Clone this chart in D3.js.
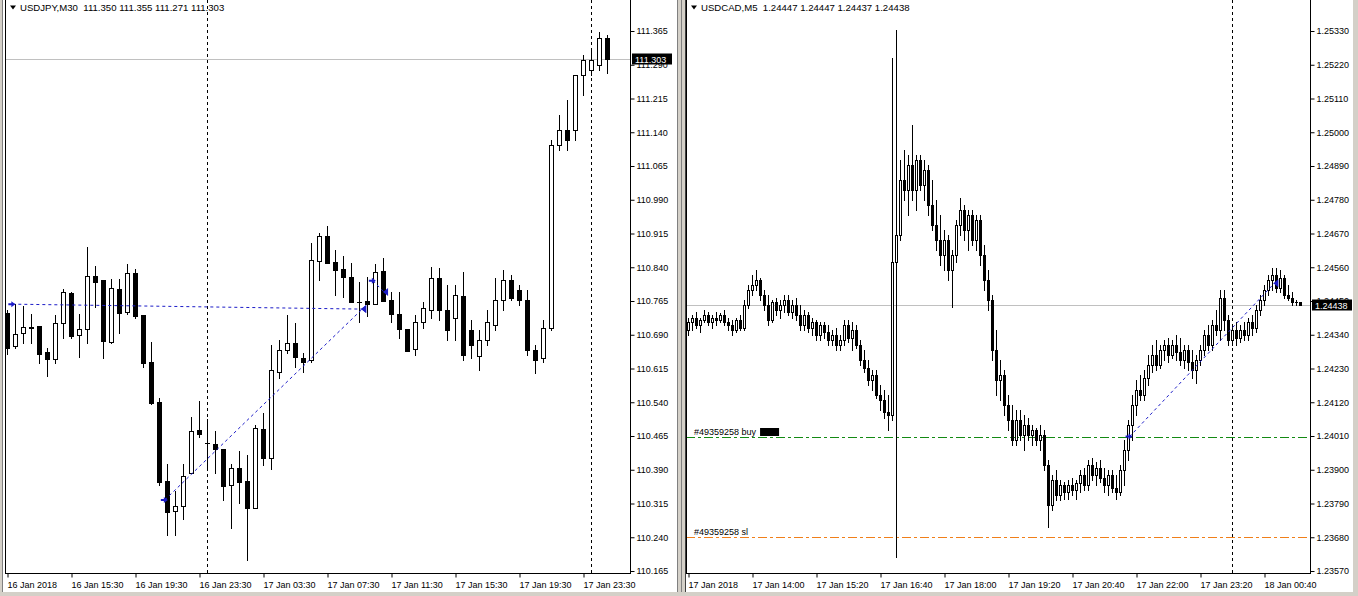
<!DOCTYPE html>
<html>
<head>
<meta charset="utf-8">
<script src="https://cdn.jsdelivr.net/npm/d3@7/dist/d3.min.js"></script>
<style>
html,body{margin:0;padding:0;background:#fff;overflow:hidden;}
text{font-family:"Liberation Sans",Arial,sans-serif;font-size:9px;fill:#000;}
text.hdr{font-size:9.6px;}
</style>
</head>
<body>
<svg id="chart" width="1358" height="596"></svg>
<script>
// ================= USDJPY, M30 =================
const jpyStart = "2018-01-16 11:30";
const jpyOpen = [110.738,110.665,110.694,110.707,110.710,110.652,110.636,110.716,110.783,110.690,
110.703,110.821,110.812,110.674,110.792,110.741,110.827,110.734,110.630,110.541,
110.365,110.298,110.310,110.383,110.478,110.450,110.447,110.436,110.356,110.394,
110.365,110.305,110.481,110.416,110.607,110.656,110.672,110.638,110.634,110.854,
110.910,110.852,110.836,110.818,110.763,110.765,110.758,110.832,110.767,110.736,
110.703,110.658,110.718,110.745,110.816,110.745,110.727,110.776,110.701,110.643,
110.678,110.712,110.767,110.812,110.790,110.767,110.656,110.638,110.705,111.112,
111.145,111.145,111.267,111.278,111.290,111.350];
const jpyHigh = [110.745,110.758,110.754,110.736,110.710,110.661,110.734,110.792,110.785,110.736,
110.885,110.843,110.812,110.814,110.814,110.847,110.836,110.734,110.674,110.550,
110.403,110.343,110.403,110.507,110.543,110.503,110.476,110.436,110.403,110.432,
110.423,110.490,110.516,110.667,110.678,110.734,110.716,110.650,110.894,110.916,
110.932,110.878,110.865,110.850,110.807,110.818,110.847,110.861,110.785,110.785,
110.703,110.734,110.763,110.841,110.838,110.801,110.801,110.830,110.723,110.701,
110.745,110.816,110.834,110.823,110.801,110.790,110.667,110.723,111.123,111.178,
111.212,111.267,111.312,111.323,111.363,111.355];
const jpyLow = [110.647,110.661,110.672,110.672,110.627,110.598,110.627,110.683,110.683,110.641,
110.672,110.752,110.638,110.672,110.694,110.736,110.727,110.618,110.536,110.356,
110.245,110.245,110.281,110.383,110.463,110.392,110.383,110.323,110.261,110.316,
110.190,110.305,110.401,110.392,110.594,110.650,110.618,110.607,110.630,110.812,
110.850,110.778,110.774,110.763,110.718,110.732,110.758,110.765,110.718,110.683,
110.654,110.645,110.705,110.727,110.723,110.678,110.678,110.634,110.638,110.612,
110.667,110.701,110.745,110.767,110.756,110.645,110.605,110.630,110.701,111.101,
111.101,111.123,111.223,111.267,111.278,111.271];
const jpyClose = [110.661,110.692,110.707,110.705,110.647,110.636,110.716,110.785,110.687,110.703,
110.821,110.807,110.676,110.794,110.738,110.827,110.732,110.627,110.538,110.363,
110.296,110.310,110.376,110.476,110.470,110.449,110.436,110.354,110.394,110.363,
110.305,110.483,110.416,110.612,110.656,110.672,110.641,110.630,110.856,110.910,
110.850,110.834,110.818,110.763,110.762,110.758,110.830,110.765,110.736,110.703,
110.654,110.718,110.750,110.816,110.745,110.701,110.778,110.645,110.667,110.678,
110.718,110.767,110.812,110.772,110.767,110.656,110.634,110.705,111.112,111.145,
111.123,111.267,111.301,111.301,111.350,111.303];
const jpyPriceTicks = [111.365,111.290,111.215,111.140,111.065,110.990,110.915,110.840,110.765,110.690,110.615,110.540,110.465,110.390,110.315,110.240,110.165];
const jpyTimeLabels = ["16 Jan 2018","16 Jan 15:30","16 Jan 19:30","16 Jan 23:30","17 Jan 03:30","17 Jan 07:30","17 Jan 11:30","17 Jan 15:30","17 Jan 19:30","17 Jan 23:30"];
const jpyTimeLabelTimes = ["2018-01-16 11:30","2018-01-16 15:30","2018-01-16 19:30","2018-01-16 23:30","2018-01-17 03:30","2018-01-17 07:30","2018-01-17 11:30","2018-01-17 15:30","2018-01-17 19:30","2018-01-17 23:30"];
const jpySeparators = ["2018-01-17 00:00","2018-01-18 00:00"];
const jpyBid = 111.303;
const jpyHeader = "USDJPY,M30  111.350 111.355 111.271 111.303";
const jpyTrades = [
  {open:"2018-01-16 11:50", openPrice:110.758, close:"2018-01-17 09:42", closePrice:110.747},
  {open:"2018-01-16 21:22", openPrice:110.323, close:"2018-01-17 09:42", closePrice:110.747},
  {open:"2018-01-17 10:22", openPrice:110.810, close:"2018-01-17 11:04", closePrice:110.785}
];

// ================= USDCAD, M5 =================
const cadStart = "2018-01-17 12:40";
const cadOpen = [1.24355,1.24381,1.24394,1.24372,1.24388,1.24404,1.24381,1.24394,1.24388,1.24404,
1.24381,1.24372,1.24355,1.24388,1.24362,1.24437,1.24486,1.24502,1.24518,1.24469,
1.24437,1.24388,1.24446,1.24420,1.24437,1.24453,1.24414,1.24437,1.24404,1.24372,
1.24404,1.24362,1.24381,1.24339,1.24372,1.24349,1.24323,1.24339,1.24306,1.24323,
1.24372,1.24329,1.24355,1.24306,1.24257,1.24231,1.24192,1.24209,1.24144,1.24127,
1.24088,1.24078,1.24577,1.24665,1.24844,1.24812,1.24893,1.24812,1.24909,1.24828,
1.24877,1.24763,1.24698,1.24649,1.24600,1.24649,1.24551,1.24600,1.24698,1.24747,
1.24681,1.24730,1.24649,1.24714,1.24600,1.24518,1.24453,1.24290,1.24192,1.24209,
1.24111,1.24062,1.23997,1.24062,1.24013,1.24046,1.24013,1.24029,1.23997,1.24013,
1.23915,1.23785,1.23866,1.23817,1.23850,1.23827,1.23850,1.23834,1.23857,1.23883,
1.23850,1.23915,1.23883,1.23905,1.23873,1.23850,1.23883,1.23840,1.23827,1.23899,
1.23964,1.24046,1.24111,1.24160,1.24144,1.24199,1.24241,1.24274,1.24241,1.24290,
1.24306,1.24274,1.24306,1.24283,1.24257,1.24290,1.24250,1.24225,1.24257,1.24290,
1.24339,1.24306,1.24372,1.24355,1.24460,1.24388,1.24323,1.24355,1.24329,1.24355,
1.24339,1.24381,1.24362,1.24420,1.24453,1.24486,1.24518,1.24535,1.24492,1.24525,
1.24469,1.24460,1.24446,1.24447];
const cadHigh = [1.24394,1.24404,1.24414,1.24394,1.24420,1.24414,1.24404,1.24414,1.24411,1.24420,
1.24394,1.24388,1.24394,1.24404,1.24453,1.24502,1.24535,1.24551,1.24525,1.24486,
1.24469,1.24453,1.24460,1.24453,1.24469,1.24469,1.24453,1.24460,1.24437,1.24420,
1.24414,1.24394,1.24388,1.24381,1.24381,1.24372,1.24355,1.24362,1.24339,1.24388,
1.24388,1.24381,1.24372,1.24323,1.24290,1.24257,1.24225,1.24225,1.24176,1.24160,
1.24144,1.25242,1.25333,1.24909,1.24942,1.24926,1.25024,1.24926,1.24926,1.24909,
1.24893,1.24844,1.24779,1.24730,1.24681,1.24665,1.24616,1.24714,1.24786,1.24763,
1.24747,1.24747,1.24730,1.24730,1.24632,1.24551,1.24469,1.24355,1.24257,1.24225,
1.24144,1.24111,1.24095,1.24095,1.24078,1.24068,1.24046,1.24036,1.24046,1.24029,
1.23932,1.23883,1.23899,1.23866,1.23860,1.23866,1.23873,1.23866,1.23899,1.23905,
1.23932,1.23938,1.23925,1.23932,1.23905,1.23899,1.23899,1.23883,1.23915,1.23997,
1.24062,1.24144,1.24192,1.24209,1.24225,1.24274,1.24306,1.24323,1.24306,1.24323,
1.24329,1.24323,1.24339,1.24329,1.24306,1.24306,1.24290,1.24274,1.24306,1.24355,
1.24372,1.24388,1.24420,1.24486,1.24486,1.24404,1.24372,1.24381,1.24372,1.24381,
1.24394,1.24404,1.24437,1.24469,1.24502,1.24535,1.24557,1.24557,1.24551,1.24535,
1.24502,1.24479,1.24453,1.24447];
const cadLow = [1.24339,1.24355,1.24362,1.24349,1.24381,1.24372,1.24362,1.24372,1.24381,1.24372,
1.24355,1.24339,1.24349,1.24355,1.24355,1.24427,1.24469,1.24486,1.24453,1.24420,
1.24372,1.24381,1.24404,1.24394,1.24414,1.24404,1.24394,1.24388,1.24355,1.24355,
1.24349,1.24339,1.24323,1.24323,1.24329,1.24306,1.24306,1.24290,1.24290,1.24306,
1.24316,1.24290,1.24296,1.24241,1.24218,1.24176,1.24160,1.24134,1.24095,1.24068,
1.24029,1.24062,1.23615,1.24649,1.24779,1.24730,1.24779,1.24747,1.24812,1.24779,
1.24730,1.24681,1.24616,1.24567,1.24551,1.24518,1.24430,1.24577,1.24665,1.24649,
1.24616,1.24632,1.24616,1.24567,1.24486,1.24420,1.24257,1.24144,1.24127,1.24078,
1.24029,1.23980,1.23980,1.23997,1.23964,1.23997,1.23980,1.23980,1.23964,1.23899,
1.23713,1.23769,1.23801,1.23801,1.23806,1.23806,1.23817,1.23806,1.23827,1.23834,
1.23834,1.23866,1.23850,1.23860,1.23827,1.23817,1.23827,1.23806,1.23817,1.23850,
1.23932,1.23997,1.24078,1.24127,1.24127,1.24176,1.24218,1.24225,1.24231,1.24257,
1.24250,1.24264,1.24257,1.24241,1.24231,1.24225,1.24199,1.24183,1.24241,1.24274,
1.24290,1.24290,1.24339,1.24323,1.24355,1.24306,1.24306,1.24306,1.24316,1.24323,
1.24323,1.24339,1.24349,1.24404,1.24437,1.24469,1.24486,1.24479,1.24479,1.24460,
1.24453,1.24437,1.24437,1.24437];
const cadClose = [1.24381,1.24394,1.24372,1.24388,1.24404,1.24381,1.24394,1.24388,1.24404,1.24381,
1.24372,1.24355,1.24388,1.24362,1.24437,1.24486,1.24502,1.24518,1.24469,1.24437,
1.24388,1.24446,1.24420,1.24437,1.24453,1.24414,1.24437,1.24404,1.24372,1.24404,
1.24362,1.24381,1.24339,1.24372,1.24349,1.24323,1.24339,1.24306,1.24323,1.24372,
1.24329,1.24355,1.24306,1.24257,1.24231,1.24192,1.24209,1.24144,1.24127,1.24088,
1.24078,1.24577,1.24665,1.24844,1.24812,1.24893,1.24812,1.24909,1.24828,1.24877,
1.24763,1.24698,1.24649,1.24600,1.24649,1.24551,1.24600,1.24698,1.24747,1.24681,
1.24730,1.24649,1.24714,1.24600,1.24518,1.24453,1.24290,1.24192,1.24209,1.24111,
1.24062,1.23997,1.24062,1.24013,1.24046,1.24013,1.24029,1.23997,1.24013,1.23915,
1.23785,1.23866,1.23817,1.23850,1.23827,1.23850,1.23834,1.23857,1.23883,1.23850,
1.23915,1.23883,1.23905,1.23873,1.23850,1.23883,1.23840,1.23827,1.23899,1.23964,
1.24046,1.24111,1.24160,1.24144,1.24199,1.24241,1.24274,1.24241,1.24290,1.24306,
1.24274,1.24306,1.24283,1.24257,1.24290,1.24250,1.24225,1.24257,1.24290,1.24339,
1.24306,1.24372,1.24355,1.24460,1.24388,1.24323,1.24355,1.24329,1.24355,1.24339,
1.24381,1.24362,1.24420,1.24453,1.24486,1.24518,1.24535,1.24492,1.24525,1.24469,
1.24460,1.24446,1.24447,1.24438];
const cadPriceTicks = [1.25330,1.25220,1.25110,1.25000,1.24890,1.24780,1.24670,1.24560,1.24450,1.24340,1.24230,1.24120,1.24010,1.23900,1.23790,1.23680,1.23570];
const cadTimeLabels = ["17 Jan 2018","17 Jan 14:00","17 Jan 15:20","17 Jan 16:40","17 Jan 18:00","17 Jan 19:20","17 Jan 20:40","17 Jan 22:00","17 Jan 23:20","18 Jan 00:40"];
const cadTimeLabelTimes = ["2018-01-17 12:40","2018-01-17 14:00","2018-01-17 15:20","2018-01-17 16:40","2018-01-17 18:00","2018-01-17 19:20","2018-01-17 20:40","2018-01-17 22:00","2018-01-17 23:20","2018-01-18 00:40"];
const cadSeparators = ["2018-01-18 00:00"];
const cadBid = 1.24438;
const cadHeader = "USDCAD,M5  1.24447 1.24447 1.24437 1.24438";
const cadTrades = [
  {open:"2018-01-17 21:52", openPrice:1.24008, close:"2018-01-18 00:53", closePrice:1.24508}
];
const cadOrderLines = [
  {label:"#49359258 buy", price:1.24008, color:"#138a13", box:true},
  {label:"#49359258 sl",  price:1.23680, color:"#f07f1a", box:false}
];

// ================= rendering =================
const parse = d3.timeParse("%Y-%m-%d %H:%M");
const svg = d3.select("#chart");
const BOTTOM = 573;

svg.append("rect").attr("x",0).attr("y",0).attr("width",1358).attr("height",596).attr("fill","#fff");

function drawPanel(p){
  const t0 = parse(p.start);
  const n = p.open.length;
  const stepMs = p.stepMin*60000;
  const x = d3.scaleTime().domain([t0, new Date(+t0 + n*stepMs)]).range([p.firstX, p.firstX + n*p.barPx]);
  const y = d3.scaleLinear().domain([p.ticks[p.ticks.length-1], p.ticks[0]]).range([571, 31]);
  const bars = d3.range(n).map(i=>({t:new Date(+t0+i*stepMs), o:p.open[i], h:p.high[i], l:p.low[i], c:p.close[i]}));

  const clipId = "clip"+p.id;
  svg.append("clipPath").attr("id",clipId).append("rect")
    .attr("x",p.left+1).attr("y",0).attr("width",p.right-p.left-1).attr("height",BOTTOM);
  const g = svg.append("g");
  const plot = g.append("g").attr("clip-path",`url(#${clipId})`);

  // period separators
  p.separators.forEach(s=>{
    const xx = Math.round(x(parse(s)))+0.5;
    plot.append("line").attr("x1",xx).attr("x2",xx).attr("y1",0).attr("y2",BOTTOM)
      .attr("stroke","#000").attr("stroke-dasharray","3,3");
  });
  // bid line
  const by = Math.round(y(p.bid))+0.5;
  plot.append("line").attr("x1",p.left).attr("x2",p.right).attr("y1",by).attr("y2",by).attr("stroke","#c0c0c0");

  // order lines
  (p.orderLines||[]).forEach(o=>{
    const oy = Math.round(y(o.price))+0.5;
    plot.append("line").attr("x1",p.left).attr("x2",p.right).attr("y1",oy).attr("y2",oy)
      .attr("stroke",o.color).attr("stroke-dasharray","9,3,3,3").attr("shape-rendering","crispEdges");
    const t = plot.append("text").attr("x",p.left+8).attr("y",oy-2.5).text(o.label);
    if(o.box){
      const w = t.node().getComputedTextLength();
      plot.append("rect").attr("x",p.left+8+w+4).attr("y",oy-9.5).attr("width",19).attr("height",8).attr("fill","#000");
    }
  });

  // candles
  const cg = plot.append("g").attr("shape-rendering","crispEdges");
  const hw = p.bodyHalf;
  bars.forEach(b=>{
    const cx = Math.round(x(b.t));
    const yh = Math.round(y(b.h)), yl = Math.round(y(b.l));
    cg.append("line").attr("x1",cx+0.5).attr("x2",cx+0.5).attr("y1",yh).attr("y2",yl+1).attr("stroke","#000");
    const top = Math.round(y(Math.max(b.o,b.c))), bot = Math.round(y(Math.min(b.o,b.c)));
    if(bot-top < 1){
      cg.append("rect").attr("x",cx-hw).attr("y",top).attr("width",2*hw+1).attr("height",1).attr("fill","#000");
    } else if(b.c > b.o){
      cg.append("rect").attr("x",cx-hw+0.5).attr("y",top+0.5).attr("width",2*hw).attr("height",bot-top)
        .attr("fill","#fff").attr("stroke","#000");
    } else {
      cg.append("rect").attr("x",cx-hw).attr("y",top).attr("width",2*hw+1).attr("height",bot-top+1).attr("fill","#000");
    }
  });

  // trades
  const blue = "#1c1cc8";
  p.trades.forEach(tr=>{
    const x1 = x(parse(tr.open)), y1 = y(tr.openPrice), x2 = x(parse(tr.close)), y2 = y(tr.closePrice);
    plot.append("line").attr("x1",x1).attr("y1",y1).attr("x2",x2).attr("y2",y2)
      .attr("stroke",blue).attr("stroke-dasharray","3,3");
    plot.append("path").attr("transform",`translate(${x1},${y1})`)
      .attr("d","M-4,-1H-1V-3L3,0L-1,3V1H-4Z").attr("fill",blue);
    plot.append("path").attr("transform",`translate(${x2},${y2})`)
      .attr("d","M4,-4L-1,0L4,4Z").attr("fill",blue);
  });

  // frame
  g.append("line").attr("x1",p.left+0.5).attr("x2",p.left+0.5).attr("y1",0).attr("y2",BOTTOM).attr("stroke","#000");
  g.append("line").attr("x1",p.right+0.5).attr("x2",p.right+0.5).attr("y1",0).attr("y2",BOTTOM+1).attr("stroke","#000");
  g.append("line").attr("x1",p.left).attr("x2",p.right+1).attr("y1",BOTTOM+0.5).attr("y2",BOTTOM+0.5).attr("stroke","#000");

  // header
  g.append("path").attr("d",`M${p.left+5},5.5H${p.left+11}L${p.left+8},9.5Z`).attr("fill","#000");
  g.append("text").attr("class","hdr").attr("x",p.left+15).attr("y",11).style("white-space","pre").text(p.header);

  // price axis
  const ya = g.append("g").attr("transform",`translate(${p.right+0.5},0)`)
    .call(d3.axisRight(y).tickValues(p.ticks).tickSize(4).tickPadding(2).tickFormat(d3.format(p.fmt)));
  ya.select(".domain").remove();
  ya.selectAll("text").attr("font-family",null).attr("font-size",null);
  // time axis
  const xa = g.append("g").attr("transform",`translate(0.5,${BOTTOM+0.5})`)
    .call(d3.axisBottom(x).tickValues(p.labelTimes.map(parse)).tickSize(4).tickPadding(4)
      .tickFormat((d,i)=>p.labels[i]));
  xa.select(".domain").remove();
  xa.selectAll("text").attr("text-anchor","start").attr("x",-0.5).attr("font-family",null).attr("font-size",null);

  // bid label
  const bl = g.append("g");
  bl.append("rect").attr("x",p.right+2).attr("y",by-6).attr("width",40).attr("height",11).attr("fill","#000");
  bl.append("text").attr("x",p.right+5).attr("y",by+3.5).style("fill","#fff").text(d3.format(p.fmt)(p.bid));
}

drawPanel({id:"jpy", start:jpyStart, stepMin:30, open:jpyOpen, high:jpyHigh, low:jpyLow, close:jpyClose,
  ticks:jpyPriceTicks, fmt:".3f", labels:jpyTimeLabels, labelTimes:jpyTimeLabelTimes, separators:jpySeparators,
  bid:jpyBid, header:jpyHeader, trades:jpyTrades, left:5, right:630, firstX:7, barPx:8, bodyHalf:2});
drawPanel({id:"cad", start:cadStart, stepMin:5, open:cadOpen, high:cadHigh, low:cadLow, close:cadClose,
  ticks:cadPriceTicks, fmt:".5f", labels:cadTimeLabels, labelTimes:cadTimeLabelTimes, separators:cadSeparators,
  bid:cadBid, header:cadHeader, trades:cadTrades, orderLines:cadOrderLines, left:686, right:1310, firstX:688, barPx:4, bodyHalf:1});

// window chrome / splitters
const chrome = svg.append("g").attr("shape-rendering","crispEdges");
chrome.append("rect").attr("x",0).attr("y",0).attr("width",3).attr("height",596).attr("fill","#d4d0c8");
chrome.append("line").attr("x1",2.5).attr("x2",2.5).attr("y1",0).attr("y2",596).attr("stroke","#808080");
chrome.append("rect").attr("x",677).attr("y",0).attr("width",9).attr("height",596).attr("fill","#d4d0c8");
chrome.append("line").attr("x1",677.5).attr("x2",677.5).attr("y1",0).attr("y2",596).attr("stroke","#808080");
chrome.append("line").attr("x1",681.5).attr("x2",681.5).attr("y1",0).attr("y2",596).attr("stroke","#808080");
chrome.append("line").attr("x1",685.5).attr("x2",685.5).attr("y1",0).attr("y2",596).attr("stroke","#404040");
chrome.append("rect").attr("x",1353).attr("y",0).attr("width",5).attr("height",596).attr("fill","#d4d0c8");
chrome.append("rect").attr("x",0).attr("y",592).attr("width",1358).attr("height",4).attr("fill","#d4d0c8");
</script>
</body>
</html>
